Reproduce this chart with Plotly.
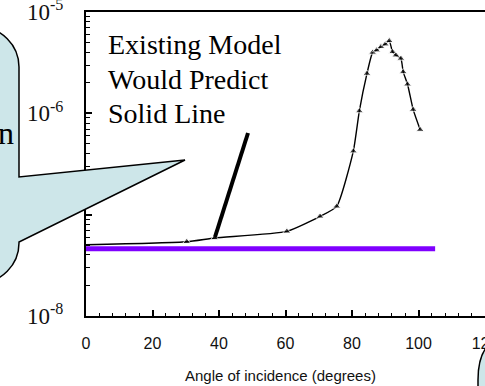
import plotly.graph_objects as go

# ---- data ----
angle = [0, 30.3, 38.7, 60.4, 70.4, 75.4, 80.4, 82.2, 84.5, 86.2, 87.4, 88.7, 90.0, 91.2,
         92.2, 93.2, 94.7, 95.4, 96.7, 98.4, 100.5]
log_signal = [-7.297, -7.267, -7.23, -7.165, -7.017, -6.918, -6.373, -5.977, -5.607, -5.399,
              -5.376, -5.343, -5.317, -5.284, -5.393, -5.426, -5.458, -5.591, -5.713, -5.963, -6.161]
signal = [10 ** v for v in log_signal]
marker_shown = [0] + [7] * (len(angle) - 1)

model_angle = [0, 105]
model_signal = [4.6e-8, 4.6e-8]

x_ticks = [0, 20, 40, 60, 80, 100, 120]
y_ticks = [1e-8, 1e-7, 1e-6, 1e-5]
y_ticktext = ["10<sup>-8</sup>", "10<sup>-7</sup>", "10<sup>-6</sup>", "10<sup>-5</sup>"]
y_minor = [k * 10 ** e for e in (-8, -7, -6) for k in range(2, 10)]

callout_lines = ["Existing Model", "Would Predict", "Solid Line"]

# ---- geometry helpers (pixel -> paper) ----
W, H = 485, 386
L, T, B = 86, 12, 70
PW = W - L
PH = H - T - B


def px(x):
    return (x - L) / PW


def py(y):
    return (H - B - y) / PH


def path(cmds):
    out = []
    for c in cmds:
        if c[0] == "Z":
            out.append("Z")
        else:
            pts = " ".join(f"{px(a):.5f},{py(b):.5f}" for a, b in c[1:])
            out.append(f"{c[0]} {pts}")
    return " ".join(out)


fig = go.Figure()
fig.add_trace(go.Scatter(x=model_angle, y=model_signal, mode="lines",
                         line=dict(color="#7f00ff", width=5), showlegend=False))
fig.add_trace(go.Scatter(x=angle, y=signal, mode="lines+markers",
                         line=dict(color="black", width=1.4, shape="spline", smoothing=0.5),
                         marker=dict(symbol="triangle-up", size=marker_shown, color="black"),
                         showlegend=False))

serif = "Liberation Serif"
sans = "Liberation Sans"

fig.update_layout(
    width=W, height=H,
    margin=dict(l=L, r=0, t=T, b=B, pad=0, autoexpand=False),
    paper_bgcolor="white", plot_bgcolor="white",
    xaxis=dict(range=[0, 120], tickvals=x_ticks, ticks="inside", ticklen=6, tickwidth=1.5,
               tickcolor="black", showline=True, linecolor="black", linewidth=2, mirror=True,
               showgrid=False, zeroline=False, ticklabeloverflow="allow", automargin=False,
               tickfont=dict(family=sans, size=16, color="#111"), ticklabelstandoff=12,
               minor=dict(dtick=4, tick0=0, ticks="inside", ticklen=3, tickwidth=1,
                          tickcolor="black", showgrid=False)),
    yaxis=dict(type="log", range=[-8.0005, -4.9995], tickmode="array", tickvals=y_ticks,
               ticktext=y_ticktext, ticks="inside", ticklen=6, tickwidth=1.5, tickcolor="black",
               showline=True, linecolor="black", linewidth=2, showgrid=False, zeroline=False,
               ticklabeloverflow="allow", automargin=False,
               tickfont=dict(family=serif, size=23, color="#111"), ticklabelstandoff=16,
               minor=dict(tickmode="array", tickvals=y_minor, ticks="inside", ticklen=4,
                          tickwidth=1, tickcolor="black", showgrid=False)),
)

# Callout text inside plot
for i, (line, yc) in enumerate(zip(callout_lines, [44.5, 79.5, 113.5])):
    fig.add_annotation(xref="paper", yref="paper", x=px(106), y=py(yc), text=line,
                       showarrow=False, xanchor="left", yanchor="middle",
                       font=dict(family=serif, size=28, color="black"))

# Pointer line to the curve
fig.add_shape(type="line", xref="paper", yref="paper", x0=px(248), y0=py(133), x1=px(215), y1=py(237),
              line=dict(color="black", width=4), layer="above")

# Speech bubble on the left
bubble = path([
    ("M", (-60, 27)), ("L", (-21, 27)), ("C", (1, 27), (19, 45), (19, 67)),
    ("L", (19, 177)), ("L", (185, 160)), ("L", (19, 242)), ("L", (19, 243)),
    ("C", (19, 265), (1, 283), (-21, 283)), ("L", (-60, 283)), ("Z",)
])
fig.add_shape(type="path", xref="paper", yref="paper", path=bubble,
              fillcolor="#cde6e9", line=dict(color="black", width=1.5), layer="above")

# Bubble at bottom right
bubble2 = path([
    ("M", (478, 420)), ("L", (478, 380)), ("C", (478, 368), (480, 356), (486, 348)),
    ("L", (530, 340)), ("L", (530, 420)), ("Z",)
])
fig.add_shape(type="path", xref="paper", yref="paper", path=bubble2,
              fillcolor="#cde6e9", line=dict(color="black", width=1.5), layer="above")

fig.add_annotation(xref="paper", yref="paper", x=px(16), y=py(133), text="n", showarrow=False,
                   xanchor="right", yanchor="middle", font=dict(family=serif, size=32, color="black"))

# Axis title
fig.add_annotation(xref="paper", yref="paper", x=px(280), y=py(375), text="Angle of incidence (degrees)",
                   showarrow=False, xanchor="center", yanchor="middle",
                   font=dict(family=sans, size=15, color="#111"))

fig.write_html("out.html")
